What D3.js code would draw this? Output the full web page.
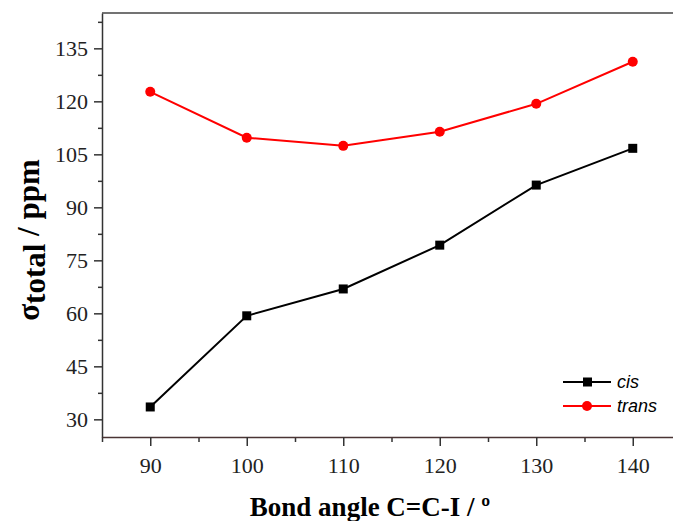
<!DOCTYPE html>
<html>
<head>
<meta charset="utf-8">
<script src="https://cdn.jsdelivr.net/npm/d3@7"></script>
<style>
  body { margin: 0; background: #fff; }
  svg { display: block; }
</style>
</head>
<body>
<div id="vis"></div>
<script>
const FRAME_WIDTH = 673;
const FRAME_HEIGHT = 521;
const MARGINS = {left: 102, right: -8, top: 13, bottom: 84};

// data
const angles = [90, 100, 110, 120, 130, 140];
const cisValues = [33.5, 59.3, 66.9, 79.3, 96.3, 106.7];
const transValues = [122.7, 109.7, 107.4, 111.4, 119.3, 131.2];
const yTicks = [30, 45, 60, 75, 90, 105, 120, 135];
const xTicks = [90, 100, 110, 120, 130, 140];

const VIS_WIDTH = FRAME_WIDTH - MARGINS.left - MARGINS.right;
const VIS_HEIGHT = FRAME_HEIGHT - MARGINS.top - MARGINS.bottom;

const svg = d3.select('#vis')
  .append('svg')
    .attr('width', FRAME_WIDTH)
    .attr('height', FRAME_HEIGHT);

const X_SCALE = d3.scaleLinear().domain([85, 145]).range([0, VIS_WIDTH]);
const Y_SCALE = d3.scaleLinear().domain([25, 145]).range([VIS_HEIGHT, 0]);

const g = svg.append('g')
  .attr('transform', 'translate(' + MARGINS.left + ',' + MARGINS.top + ')');

const tickFont = 'Liberation Serif, Times New Roman, serif';

// minor ticks
g.append('g')
  .call(d3.axisLeft(Y_SCALE).tickValues(d3.range(37.5, 145, 15)).tickSize(4).tickFormat(''))
  .call(a => a.select('.domain').remove())
  .selectAll('line').attr('stroke', '#333').attr('stroke-width', 1.5);
g.append('g')
  .attr('transform', 'translate(0,' + VIS_HEIGHT + ')')
  .call(d3.axisBottom(X_SCALE).tickValues(d3.range(95, 145, 10).concat([85])).tickSize(5).tickFormat(''))
  .call(a => a.select('.domain').remove())
  .selectAll('line').attr('stroke', '#333').attr('stroke-width', 1.5);

// y axis
const yAxis = g.append('g')
  .call(d3.axisLeft(Y_SCALE).tickValues(yTicks).tickSize(8).tickSizeOuter(0).tickPadding(6));
yAxis.select('.domain').attr('stroke', '#333').attr('stroke-width', 1.5);
yAxis.selectAll('line').attr('stroke', '#333').attr('stroke-width', 1.5);
yAxis.selectAll('text')
  .attr('font-family', tickFont)
  .attr('font-size', '22px')
  .attr('fill', '#222');

// x axis
const xAxis = g.append('g')
  .attr('transform', 'translate(0,' + VIS_HEIGHT + ')')
  .call(d3.axisBottom(X_SCALE).tickValues(xTicks).tickSize(9).tickSizeOuter(0).tickPadding(11));
xAxis.select('.domain').attr('stroke', '#4a3434').attr('stroke-width', 1.5);
xAxis.selectAll('line').attr('stroke', '#333').attr('stroke-width', 1.5);
xAxis.selectAll('text')
  .attr('font-family', tickFont)
  .attr('font-size', '22px')
  .attr('fill', '#222');

// top border
g.append('line')
  .attr('x1', 0).attr('x2', VIS_WIDTH)
  .attr('y1', 0).attr('y2', 0)
  .attr('stroke', '#444').attr('stroke-width', 1.5);

// lines
const line = d3.line()
  .x((d, i) => X_SCALE(angles[i]))
  .y(d => Y_SCALE(d));

g.append('path')
  .datum(transValues)
  .attr('d', line)
  .attr('fill', 'none')
  .attr('stroke', '#ff0000')
  .attr('stroke-width', 2);

g.append('path')
  .datum(cisValues)
  .attr('d', line)
  .attr('fill', 'none')
  .attr('stroke', '#000')
  .attr('stroke-width', 2);

g.selectAll('.trans-pt')
  .data(transValues)
  .enter().append('circle')
    .attr('cx', (d, i) => X_SCALE(angles[i]))
    .attr('cy', d => Y_SCALE(d))
    .attr('r', 5)
    .attr('fill', '#ff0000');

g.selectAll('.cis-pt')
  .data(cisValues)
  .enter().append('rect')
    .attr('x', (d, i) => X_SCALE(angles[i]) - 4.5)
    .attr('y', d => Y_SCALE(d) - 4.5)
    .attr('width', 9)
    .attr('height', 9)
    .attr('fill', '#000');

// legend
const legend = [
  {name: 'cis', color: '#000', shape: 'square', y: 382},
  {name: 'trans', color: '#ff0000', shape: 'circle', y: 406}
];
legend.forEach(l => {
  svg.append('line')
    .attr('x1', 563).attr('x2', 611)
    .attr('y1', l.y).attr('y2', l.y)
    .attr('stroke', l.color).attr('stroke-width', 2);
  if (l.shape === 'square') {
    svg.append('rect')
      .attr('x', 583).attr('y', l.y - 4.5)
      .attr('width', 9).attr('height', 9)
      .attr('fill', l.color);
  } else {
    svg.append('circle')
      .attr('cx', 587).attr('cy', l.y).attr('r', 5)
      .attr('fill', l.color);
  }
  svg.append('text')
    .attr('x', 617).attr('y', l.y + 6)
    .attr('font-family', 'Liberation Sans, Arial, sans-serif')
    .attr('font-style', 'italic')
    .attr('font-size', '18px')
    .text(l.name);
});

// x axis title
svg.append('text')
  .attr('x', 370)
  .attr('y', 516)
  .style('text-anchor', 'middle')
  .attr('font-family', tickFont)
  .attr('font-weight', 'bold')
  .attr('font-size', '27px')
  .text('Bond angle C=C-I / º');

// y axis title
const yTitle = svg.append('text')
  .attr('transform', 'translate(39,' + 240 + ') rotate(-90)')
  .style('text-anchor', 'middle')
  .attr('font-family', tickFont)
  .attr('font-weight', 'bold')
  .attr('font-size', '31px');
yTitle.append('tspan').text('σ');
yTitle.append('tspan').attr('dy', 6).text('total');
yTitle.append('tspan').attr('dy', -6).text(' / ppm');
</script>
</body>
</html>
